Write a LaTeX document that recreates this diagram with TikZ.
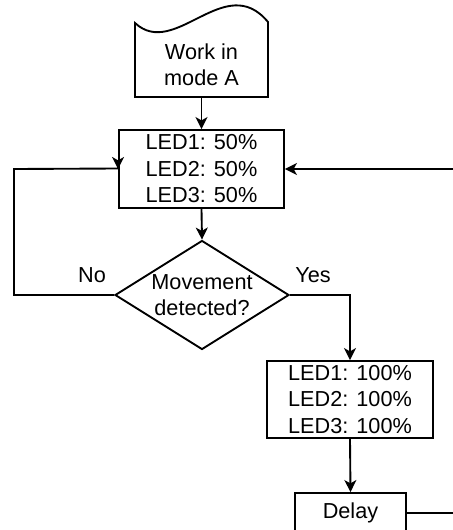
\documentclass[tikz,border=0pt]{standalone}
\usepackage{fontspec}
\setmainfont{Liberation Sans}
\usetikzlibrary{shapes.geometric,arrows.meta,calc}

\tikzset{
  box/.style={draw, line width=1.6pt, inner sep=0pt, align=center},
  arr/.style={line width=1.6pt, -{Stealth[length=0.36cm, width=0.36cm, inset=0.1cm]}},
}

\begin{document}
\begin{tikzpicture}[x=0.03cm, y=-0.03cm, font=\fontsize{18.5}{22.6}\selectfont]
\useasboundingbox (0,0) rectangle (453,530);
% start: document shape with a wavy top
\draw[line width=1.6pt] (135,97) -- (135,23) .. controls (175,60) and (225,-30) .. (268,22) -- (268,97) -- cycle;
\node[inner sep=0pt, minimum width=3.99cm, minimum height=1.92cm, align=center] (work) at (201.5,65) {Work in\\mode A};
\node[box, minimum width=4.95cm, minimum height=2.34cm] (b50) at (201.5,169) {LED1: 50\%\\LED2: 50\%\\LED3: 50\%};
\node[box, diamond, aspect=1.6, minimum width=5.22cm, minimum height=3.27cm] (dia) at (202,295) {Movement\\detected?};
\node[box, minimum width=4.98cm, minimum height=2.31cm] (b100) at (350,399.5) {LED1: 100\%\\LED2: 100\%\\LED3: 100\%};
\node[box, minimum width=3.33cm, minimum height=1.2cm] (delay) at (350.5,513) {Delay};
\node[anchor=base] (no) at (92,282) {No};
\node[anchor=base] (yes) at (313,282) {Yes};
% connectors
\draw[arr] (work.south) -- (b50.north);
\draw[arr] (b50.south) -- (dia.north);
\draw[arr] (dia.east) -| (b100.north);
\draw[arr] (b100.south) -- (delay.north);
\draw[arr] (dia.west) -- (14,295) -- (14,169) -- ($(b50.west)+(0,-0.5)$) -- (b50.west);
\draw[arr] (delay.east) -- (454,513) -- (454,169) -- (b50.east);
\end{tikzpicture}
\end{document}
